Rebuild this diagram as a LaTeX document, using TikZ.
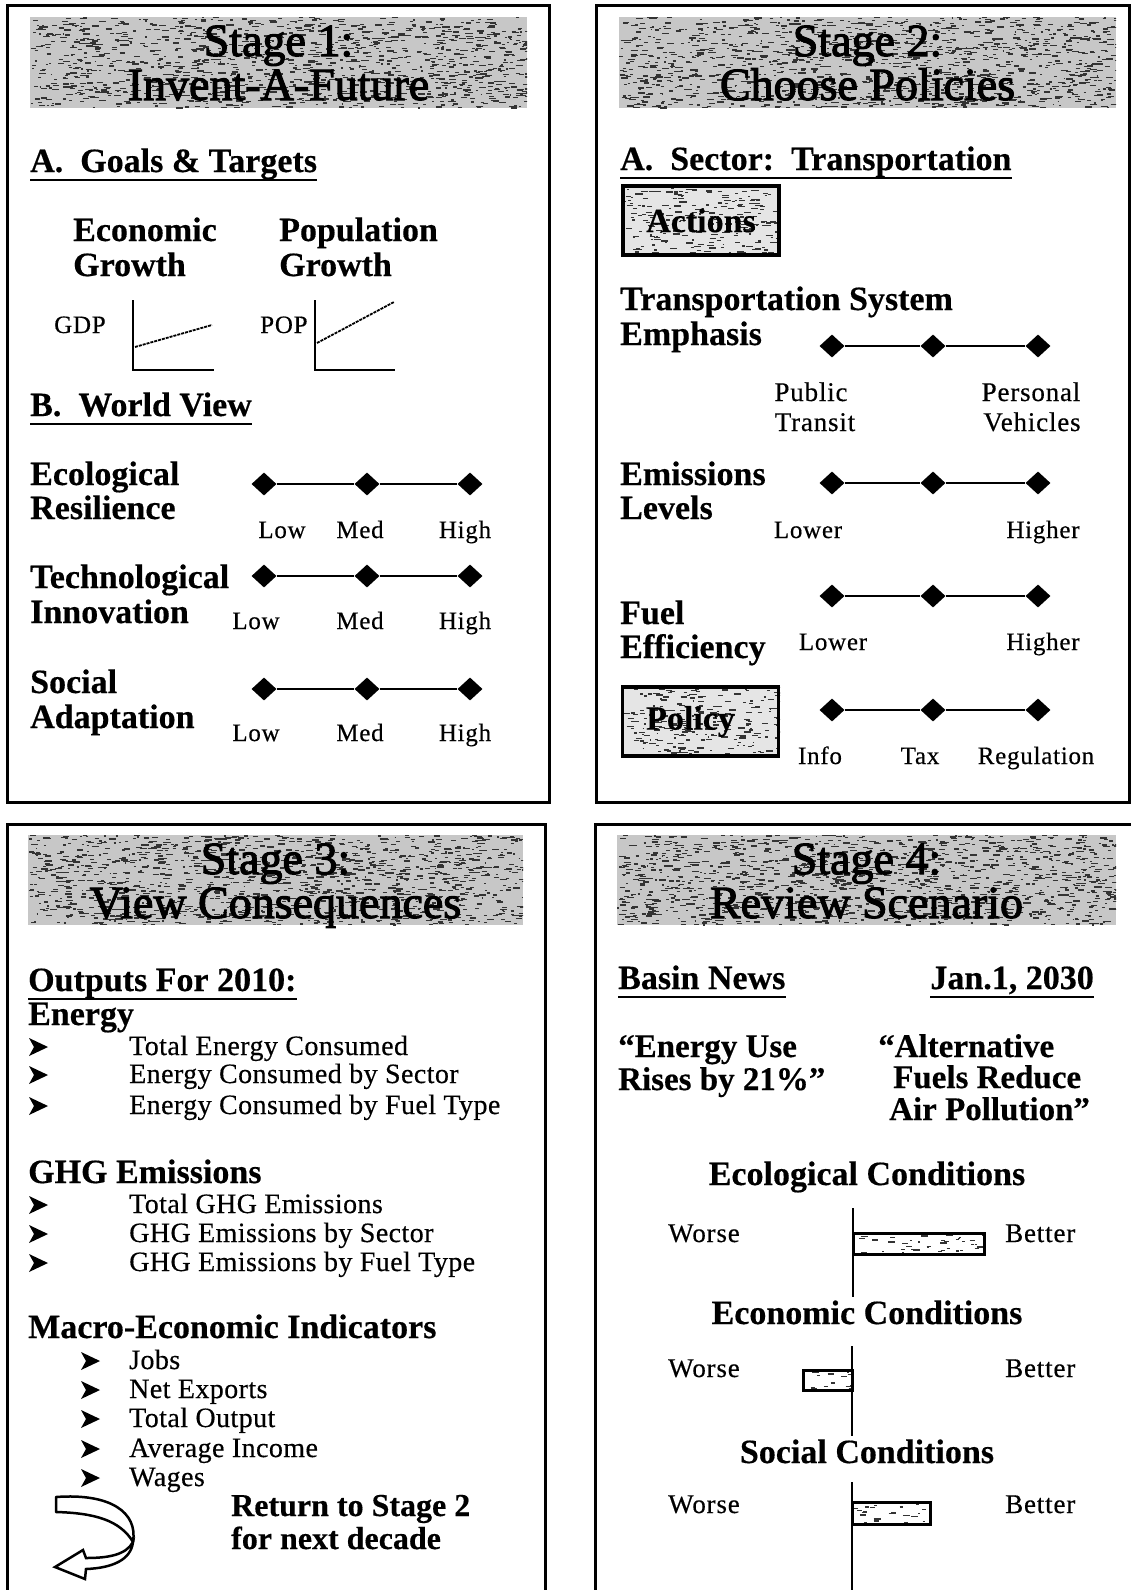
\documentclass[tikz,border=0pt]{standalone}
\usepackage{fontspec}
\setmainfont[FakeBold=0.4]{Liberation Serif}
\newfontfamily\ttlfont[FakeBold=2.4]{Liberation Serif}
\newfontfamily\spfont[FakeBold=0.4, LetterSpace=3]{Liberation Serif}
\newfontfamily\itfont[FakeBold=0.4, LetterSpace=1.5]{Liberation Serif}
\usetikzlibrary{shapes.geometric,calc}

\newcommand\fsz[1]{\fontsize{#1}{#1}\selectfont}

\tikzset{
  x=1pt, y=-1pt,
  panel/.style={draw=black, line width=3pt, line join=miter},
  lbl/.style={inner sep=0pt, anchor=base west},
  ctr/.style={inner sep=0pt, anchor=base},
  hd/.style={lbl, font=\bfseries\fsz{34}},
  hdc/.style={ctr, font=\bfseries\fsz{34}},
  ttl/.style={ctr, font=\ttlfont\fsz{46}},
  sm/.style={ctr, font=\spfont\fsz{25}},
  md/.style={ctr, font=\spfont\fsz{27}},
  mdl/.style={lbl, font=\spfont\fsz{27}},
  item/.style={lbl, font=\itfont\fsz{28}},
  dia/.style={diamond, fill=black, inner sep=0pt, minimum width=25pt, minimum height=23pt},
  rail/.style={line width=2.5pt},
  ul/.style={line width=2.5pt},
  axis/.style={line width=2.5pt},
  growth/.style={line width=1.8pt, dash pattern=on 3pt off 1pt},
  boxlbl/.style={draw=black, line width=3.5pt, inner sep=0pt, font=\bfseries\fsz{34},
    minimum width=156pt, minimum height=69pt},
  barbox/.style={draw=black, line width=3pt},
  bul/.pic={\fill (0,-9) -- (19,0) -- (0,9) -- (5,0) -- cycle;},
}

% grey speckled fill inside a rectangle
\newcommand\speckle[6]{%
  \begin{scope}
    \clip (#1,#2) rectangle (#3,#4);
    \fill[black!#6] (#1,#2) rectangle (#3,#4);
    \draw[black!80, line width=1.3pt] foreach \k in {1,...,#5}
      { ({#1+(#3-#1)*rnd},{#2+(#4-#2)*rnd}) -- ++({1.5+6*rnd},0) };
  \end{scope}}

% two-line stage heading on a speckled band
\newcommand\header[7]{%
  \speckle{#2}{#3}{#4}{#5}{1300}{22}
  \node[ttl] (#1a) at ({(#2+#4)/2},{#3+39}) {#6};
  \node[ttl] (#1b) at ({(#2+#4)/2},{#3+83}) {#7};}

% three-position selector
\newcommand\slider[5]{%
  \node[dia] (#11) at (#3,#2) {};
  \node[dia] (#12) at (#4,#2) {};
  \node[dia] (#13) at (#5,#2) {};
  \draw[rail] (#11) -- (#12) -- (#13);}

\newcommand\ulnode[1]{\draw[ul] ($(#1.base west)+(0,8)$) -- ($(#1.base east)+(0,8)$);}

\begin{document}
\begin{tikzpicture}
\pgfmathsetseed{4711}
\useasboundingbox (0,0) rectangle (1131,1590);
\fill[white] (0,0) rectangle (1131,1590);

% ---------------- Stage 1 ----------------
\draw[panel] (7,5) rectangle (549,802);
\header{hA}{30}{17}{527}{108}{Stage 1:}{Invent-A-Future}
\node[hd] (goals) at (30,172) {A.\ \ Goals \& Targets};
\ulnode{goals}
\node[hd] (econA) at (73,241) {Economic};
\node[hd] (econB) at (73,276) {Growth};
\node[hd] (popA) at (279,241) {Population};
\node[hd] (popB) at (279,276) {Growth};

\node[lbl, font=\spfont\fsz{25}] (gdp) at (54,333) {GDP};
\coordinate (gTop) at (133,300); \coordinate (gO) at (133,370); \coordinate (gEnd) at (214,370);
\coordinate (gS) at (135,347); \coordinate (gE) at (212,325);
\draw[axis] (gTop) -- (gO) -- (gEnd);
\draw[growth] (gS) -- (gE);

\node[lbl, font=\spfont\fsz{25}] (pop) at (260,333) {POP};
\coordinate (pTop) at (315,300); \coordinate (pO) at (315,370); \coordinate (pEnd) at (395,370);
\coordinate (pS) at (317,343); \coordinate (pE) at (394,302);
\draw[axis] (pTop) -- (pO) -- (pEnd);
\draw[growth] (pS) -- (pE);

\node[hd] (world) at (30,416) {B.\ \ World View};
\ulnode{world}

\node[hd] (ecoA) at (30,485) {Ecological};
\node[hd] (ecoB) at (30,519) {Resilience};
\slider{er}{484}{264}{367}{470}
\node[sm] (erL) at (282,538) {Low};
\node[sm] (erM) at (360,538) {Med};
\node[sm] (erH) at (465,538) {High};

\node[hd] (tecA) at (30,588) {Technological};
\node[hd] (tecB) at (30,623) {Innovation};
\slider{ti}{576}{264}{367}{470}
\node[sm] (tiL) at (256,629) {Low};
\node[sm] (tiM) at (360,629) {Med};
\node[sm] (tiH) at (465,629) {High};

\node[hd] (socA) at (30,693) {Social};
\node[hd] (socB) at (30,728) {Adaptation};
\slider{sa}{689}{264}{367}{470}
\node[sm] (saL) at (256,741) {Low};
\node[sm] (saM) at (360,741) {Med};
\node[sm] (saH) at (465,741) {High};

% ---------------- Stage 2 ----------------
\draw[panel] (596,5) rectangle (1129,802);
\header{hB}{619}{17}{1116}{108}{Stage 2:}{Choose Policies}
\node[hd] (sector) at (620,170) {A.\ \ Sector:\ \ Transportation};
\ulnode{sector}

\speckle{623}{186}{779}{255}{240}{10}
\node[boxlbl] (actions) at (701,220.5) {Actions};

\node[hd] (tseA) at (620,310) {Transportation System};
\node[hd] (tseB) at (620,345) {Emphasis};
\slider{ts}{346}{832}{933}{1038}
\node[md] (pubA) at (811,401) {Public};
\node[md] (pubB) at (815,431) {Transit};
\node[md] (perA) at (1031,401) {Personal};
\node[md] (perB) at (1032,431) {Vehicles};

\node[hd] (emA) at (620,485) {Emissions};
\node[hd] (emB) at (620,519) {Levels};
\slider{em}{483}{832}{933}{1038}
\node[sm] (emL) at (808,538) {Lower};
\node[sm] (emH) at (1043,538) {Higher};

\node[hd] (feA) at (620,624) {Fuel};
\node[hd] (feB) at (620,658) {Efficiency};
\slider{fe}{596}{832}{933}{1038}
\node[sm] (feL) at (833,650) {Lower};
\node[sm] (feH) at (1043,650) {Higher};

\speckle{621}{687}{780}{756}{240}{10}
\node[boxlbl] (policy) at (700.5,721.5) {\hspace*{-20pt}Policy};
\slider{po}{710}{832}{933}{1038}
\node[sm] (poI) at (820,764) {Info};
\node[sm] (poT) at (920,764) {Tax};
\node[sm] (poR) at (1036,764) {Regulation};

% ---------------- Stage 3 ----------------
\draw[panel] (7,1590) |- (545,824) -- (545,1590);
\header{hC}{28}{835}{523}{925}{Stage 3:}{View Consequences}
\node[hd] (outputs) at (28,991) {Outputs For 2010:};
\ulnode{outputs}

\node[hd] (energy) at (28,1025) {Energy};
\foreach \yy/\nm/\tx in {1055/eA/Total Energy Consumed,
                         1083/eB/Energy Consumed by Sector,
                         1114/eC/Energy Consumed by Fuel Type}{
  \pic at (29,\yy-8) {bul};
  \node[item] (\nm) at (129,\yy) {\tx};
}

\node[hd] (ghg) at (28,1183) {GHG Emissions};
\foreach \yy/\nm/\tx in {1213/gA/Total GHG Emissions,
                         1242/gB/GHG Emissions by Sector,
                         1271/gC/GHG Emissions by Fuel Type}{
  \pic at (29,\yy-8) {bul};
  \node[item] (\nm) at (129,\yy) {\tx};
}

\node[hd] (macro) at (28,1338) {Macro-Economic Indicators};
\foreach \yy/\nm/\tx in {1369/mA/Jobs, 1398/mB/Net Exports, 1427/mC/Total Output,
                         1457/mD/Average Income, 1486/mE/Wages}{
  \pic at (81,\yy-8) {bul};
  \node[item] (\nm) at (129,\yy) {\tx};
}

% turn-back arrow
\draw[fill=white, line width=2.5pt, line join=round]
  (56,1497) .. controls (110,1493) and (138,1512) .. (133,1542)
  .. controls (120,1520) and (94,1513) .. (56,1512) -- cycle;
\draw[fill=white, line width=2.5pt, line join=miter]
  (133,1542) .. controls (126,1555) and (108,1558) .. (86,1558)
  -- (83,1550) -- (55,1567) -- (85,1579) -- (86,1569)
  .. controls (112,1568) and (131,1560) .. (133,1542) -- cycle;

\node[lbl, font=\bfseries\fsz{32}] (retA) at (231,1516) {Return to Stage 2};
\node[lbl, font=\bfseries\fsz{32}] (retB) at (231,1549) {for next decade};

% ---------------- Stage 4 ----------------
\draw[panel] (595,1590) |- (1140,824);
\header{hD}{617}{835}{1116}{925}{Stage 4:}{Review Scenario}
\node[hd] (basin) at (618,989) {Basin News};
\ulnode{basin}
\node[hd, anchor=base east] (date) at (1094,989) {Jan.1, 2030};
\ulnode{date}

\node[lbl, font=\bfseries\fsz{33}] (nwA) at (618,1057) {“Energy Use};
\node[lbl, font=\bfseries\fsz{33}] (nwB) at (618,1090) {Rises by 21\%”};
\node[lbl, font=\bfseries\fsz{33}] (nwC) at (878,1057) {“Alternative};
\node[lbl, font=\bfseries\fsz{33}] (nwD) at (893,1088) {Fuels Reduce};
\node[lbl, font=\bfseries\fsz{33}] (nwE) at (889,1120) {Air Pollution”};

\node[hdc] (ecoC) at (867,1185) {Ecological Conditions};
\node[mdl] (w1) at (668,1242) {Worse};
\node[mdl] (b1) at (1005,1242) {Better};
\coordinate (a1t) at (853,1208); \coordinate (a1b) at (853,1297);
\speckle{853}{1233}{984}{1254}{40}{0}
\draw[barbox] (853,1233) rectangle (984,1254);
\draw[axis] (a1t) -- (a1b);

\node[hdc] (ecnC) at (867,1324) {Economic Conditions};
\node[mdl] (w2) at (668,1377) {Worse};
\node[mdl] (b2) at (1005,1377) {Better};
\coordinate (a2t) at (852,1346); \coordinate (a2b) at (852,1436);
\speckle{803}{1370}{852}{1390}{15}{0}
\draw[barbox] (803,1370) rectangle (852,1390);
\draw[axis] (a2t) -- (a2b);

\node[hdc] (socC) at (867,1463) {Social Conditions};
\node[mdl] (w3) at (668,1513) {Worse};
\node[mdl] (b3) at (1005,1513) {Better};
\coordinate (a3t) at (852,1482); \coordinate (a3b) at (852,1590);
\speckle{852}{1502}{930}{1524}{25}{0}
\draw[barbox] (852,1502) rectangle (930,1524);
\draw[axis] (a3t) -- (a3b);
\end{tikzpicture}
\end{document}
